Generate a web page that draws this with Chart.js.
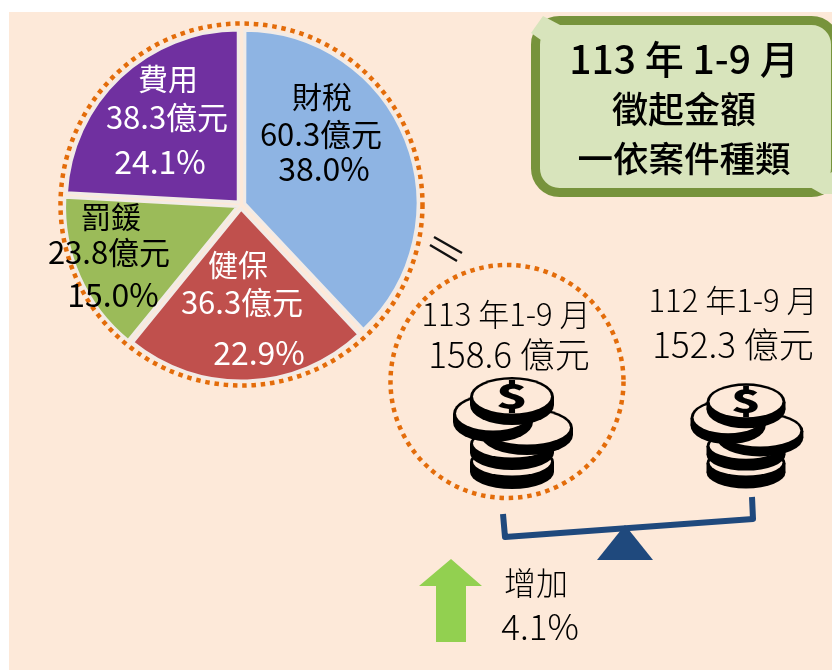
<!DOCTYPE html>
<html><head><meta charset="utf-8">
<style>html,body{margin:0;padding:0;background:#fff}#w{width:832px;height:670px}</style>
<script src="https://cdn.jsdelivr.net/npm/chart.js@4/dist/chart.umd.min.js"></script>
</head><body><div id="w"><canvas id="c" width="832" height="670"></canvas></div>
<script>
const categories=['財稅','健保','罰鍰','費用'];
const amounts=[60.3,36.3,23.8,38.3];
const percents=['38.0%','22.9%','15.0%','24.1%'];
const sliceColors=['#8EB4E3','#C0504D','#9BBB59','#7030A0'];
const textColors=['#000','#fff','#000','#fff'];
const labelSpots=[[[322,97],[321,134],[324,169]],[[238,265],[242,302],[259,353]],[[111,217],[109,252],[113,295]],[[168,79],[167,117],[160,162]]];
const titleLines=['113 年 1-9 月','徵起金額','一依案件種類'];
const compareLines=[['113 年1-9 月','158.6 億元'],['112 年1-9 月','152.3 億元']];
const changeLines=['增加','4.1%'];
const FONT='"Noto Sans CJK TC","Noto Sans",sans-serif';
function txt(c,s,x,y,size,color,weight){c.font=(weight||'400')+' '+size+'px '+FONT;c.fillStyle=color;c.textAlign='center';c.textBaseline='middle';c.fillText(s,x,y);}
function ring(c,x,y,r){c.save();c.beginPath();c.arc(x,y,r,0,Math.PI*2);c.strokeStyle='#E36C0A';c.lineWidth=4.5;c.setLineDash([4.5,4.8]);c.stroke();c.restore();}
function coin(c,x,y,rx,ry,t,bg){
 c.fillStyle='#000';c.beginPath();c.ellipse(x,y+t,rx,ry,0,0,Math.PI*2);c.fill();
 c.fillRect(x-rx,y,rx*2,t);
 c.beginPath();c.ellipse(x,y,rx,ry,0,0,Math.PI*2);c.fill();
 c.fillStyle=bg;c.beginPath();c.ellipse(x,y-0.5,rx-3,ry-3,0,0,Math.PI*2);c.fill();
}
function stack(c,cx,topY,s){
 const bg='#FDE9D9';
 const parts=[[0,65,42,17,10],[0,47,42,17,9],[15,31,46,20,7],[-19,17,40,20,8],[0,0,42,20,8]];
 parts.forEach(p=>coin(c,cx+p[0]*s,topY+p[1]*s,p[2]*s,p[3]*s,p[4]*s,bg));
 c.save();c.translate(cx,topY);c.scale(1.55,1);txt(c,'$',0,-1*s,34*s,'#000','900');c.restore();
}
const deco={id:'deco',
 beforeDraw(ch){const c=ch.ctx;c.save();c.fillStyle='#fff';c.fillRect(0,0,832,670);c.fillStyle='#FDE9D9';c.fillRect(9,12,823,658);c.restore();},
 afterDatasetsDraw(ch){const c=ch.ctx;c.save();
  ring(c,241.5,204.5,181);ring(c,507,381.5,116.5);
  c.strokeStyle='#111';c.lineWidth=2.4;
  c.beginPath();c.moveTo(434,237);c.lineTo(462,253);c.moveTo(430,245);c.lineTo(457,261);c.stroke();
  categories.forEach((n,i)=>{const p=labelSpots[i],col=textColors[i];
   txt(c,n,p[0][0],p[0][1],30,col);txt(c,amounts[i].toFixed(1)+'億元',p[1][0],p[1][1],31,col);txt(c,percents[i],p[2][0],p[2][1],32,col);});
  // title box
  c.beginPath();c.roundRect(535.5,20.5,300,172,24);c.fillStyle='#D8E4BC';c.fill();c.strokeStyle='#77933C';c.lineWidth=9;c.stroke();
  c.fillStyle='#D8E4BC';
  c.beginPath();c.moveTo(543,16);c.lineTo(562,26);c.lineTo(541,40);c.lineTo(531,33);c.closePath();c.fill();
  c.beginPath();c.moveTo(832,172);c.lineTo(832,194);c.lineTo(822,194);c.lineTo(808,186);c.closePath();c.fill();
  txt(c,titleLines[0],684,59,39,'#000','500');txt(c,titleLines[1],684,109,36,'#000','500');txt(c,titleLines[2],684,159,35.5,'#000','500');
  // comparison
  txt(c,compareLines[0][0],506,314,31,'#000','300');txt(c,compareLines[0][1],509,355,35,'#000','300');
  txt(c,compareLines[1][0],733,300,31,'#000','300');txt(c,compareLines[1][1],733,345,35,'#000','300');
  stack(c,512,397,1);stack(c,746,402,0.94);
  // balance
  c.strokeStyle='#1F497D';c.lineWidth=6;c.lineJoin='round';
  c.beginPath();c.moveTo(503,514);c.lineTo(505,537);c.lineTo(753,519);c.lineTo(752,497);c.stroke();
  c.fillStyle='#1F497D';c.beginPath();c.moveTo(625,525);c.lineTo(653,560);c.lineTo(597,560);c.closePath();c.fill();
  // arrow
  c.fillStyle='#92D050';c.beginPath();c.moveTo(451,559);c.lineTo(482,586);c.lineTo(466,586);c.lineTo(466,642);c.lineTo(436,642);c.lineTo(436,586);c.lineTo(419,586);c.closePath();c.fill();
  txt(c,changeLines[0],536,583,32,'#000','300');txt(c,changeLines[1],540,627,35,'#000','300');
  c.restore();}
};
new Chart(document.getElementById('c'),{type:'pie',
 data:{labels:categories,datasets:[{data:amounts,backgroundColor:sliceColors,borderColor:'#F2EBE6',borderWidth:3,offset:16,borderJoinStyle:'miter'}]},
 options:{responsive:false,animation:false,events:[],layout:{padding:{left:59.5,top:23.5,right:409.5,bottom:283.5}},
  plugins:{legend:{display:false},tooltip:{enabled:false},title:{display:false}}},
 plugins:[deco]});
</script></body></html>
